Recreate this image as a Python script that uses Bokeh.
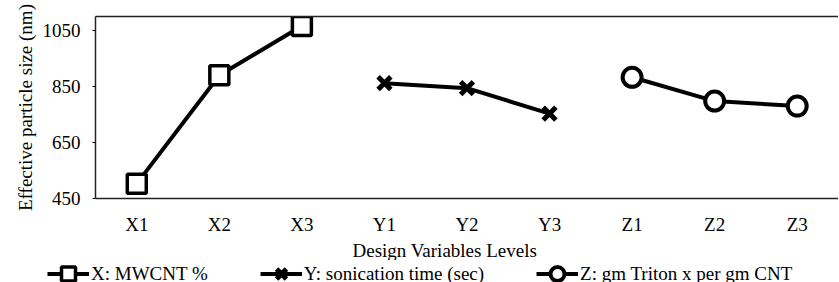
from bokeh.plotting import figure
from bokeh.layouts import column
from bokeh.models import FactorRange, Range1d, Legend, LegendItem, Title, LinearAxis, FixedTicker
from bokeh.embed import file_html
from bokeh.resources import INLINE

categories = ["X1", "X2", "X3", "Y1", "Y2", "Y3", "Z1", "Z2", "Z3"]
x_levels = ["X1", "X2", "X3"]
x_values = [503, 890, 1066]
y_levels = ["Y1", "Y2", "Y3"]
y_values = [862, 844, 753]
z_levels = ["Z1", "Z2", "Z3"]
z_values = [883, 798, 780]
y_ticks = [450, 650, 850, 1050]
series_labels = ["X: MWCNT %", "Y: sonication time (sec)", "Z: gm Triton x per gm CNT"]

FONT = "Liberation Serif"

p = figure(width=838, height=260, x_range=FactorRange(*categories),
           y_range=Range1d(450, 1100), output_backend="svg",
           toolbar_location=None, min_border_left=95, min_border_right=0,
           min_border_top=16, min_border_bottom=62)
p.frame_align = False
p.grid.visible = False
p.outline_line_color = None
p.background_fill_color = "white"

series = [
    (x_levels, x_values, dict(marker="square", size=19, line_width=3.5, fill_color="white")),
    (y_levels, y_values, dict(marker="x", size=18, line_width=5)),
    (z_levels, z_values, dict(marker="circle", size=19, line_width=4, fill_color="white")),
]
for lv, vals, mk in series:
    p.line(lv, vals, line_width=4, line_color="black")
    p.scatter(lv, vals, line_color="black", **mk)

# axes
xa = p.xaxis[0]
xa.major_tick_line_color = None
xa.minor_tick_line_color = None
xa.axis_line_width = 1.5
xa.axis_line_color = "#222222"
xa.major_label_text_font = FONT
xa.major_label_text_font_size = "19px"
xa.major_label_text_color = "black"
xa.major_label_standoff = 9

ya = p.yaxis[0]
ya.ticker = FixedTicker(ticks=y_ticks)
ya.minor_tick_line_color = None
ya.major_tick_in = 0
ya.major_tick_out = 3
ya.axis_line_width = 1.5
ya.axis_line_color = "#222222"
ya.major_label_text_font = FONT
ya.major_label_text_font_size = "19px"
ya.major_label_text_color = "black"
ya.major_label_standoff = 12

top = LinearAxis(axis_line_width=1.5, axis_line_color="#222222",
                 major_tick_line_color=None, minor_tick_line_color=None,
                 major_label_text_font_size="0px")
top.ticker = FixedTicker(ticks=[])
p.add_layout(top, "above")

# y axis title (as a side title so it can sit a little lower, like the reference)
ytitle = Title(text="Effective particle size (nm)", align="center", offset=-20,
               text_font=FONT, text_font_size="19px", text_font_style="normal",
               text_color="black", standoff=8)
p.add_layout(ytitle, "left")

xtitle = Title(text="Design Variables Levels", align="left", offset=257,
               text_font=FONT, text_font_size="19px", text_font_style="normal",
               text_color="black", standoff=0)
p.add_layout(xtitle, "below")

# legend strip: same series drawn outside its visible y-range, only the legend shows
lf = figure(width=838, height=22, x_range=p.x_range, y_range=Range1d(0, 1),
            output_backend="svg", toolbar_location=None,
            x_axis_location=None, y_axis_location=None,
            min_border_left=0, min_border_right=0, min_border_top=0, min_border_bottom=0)
lf.frame_align = False
lf.grid.visible = False
lf.outline_line_color = None
items = []
for (lv, vals, mk), lab in zip(series, series_labels):
    lr = lf.line(lv, vals, line_width=4, line_color="black")
    sr = lf.scatter(lv, vals, line_color="black", **mk)
    items.append(LegendItem(label=lab, renderers=[lr, sr]))
legend = Legend(items=items, orientation="horizontal", location=(47, -9),
                border_line_color=None, background_fill_alpha=0,
                glyph_width=42, glyph_height=35, label_standoff=2, spacing=52,
                padding=0, margin=0,
                label_text_font=FONT, label_text_font_size="19px",
                label_text_color="black")
lf.add_layout(legend, "center")

layout = column(p, lf, spacing=0)
open("out.html", "w").write(file_html(layout, INLINE))
